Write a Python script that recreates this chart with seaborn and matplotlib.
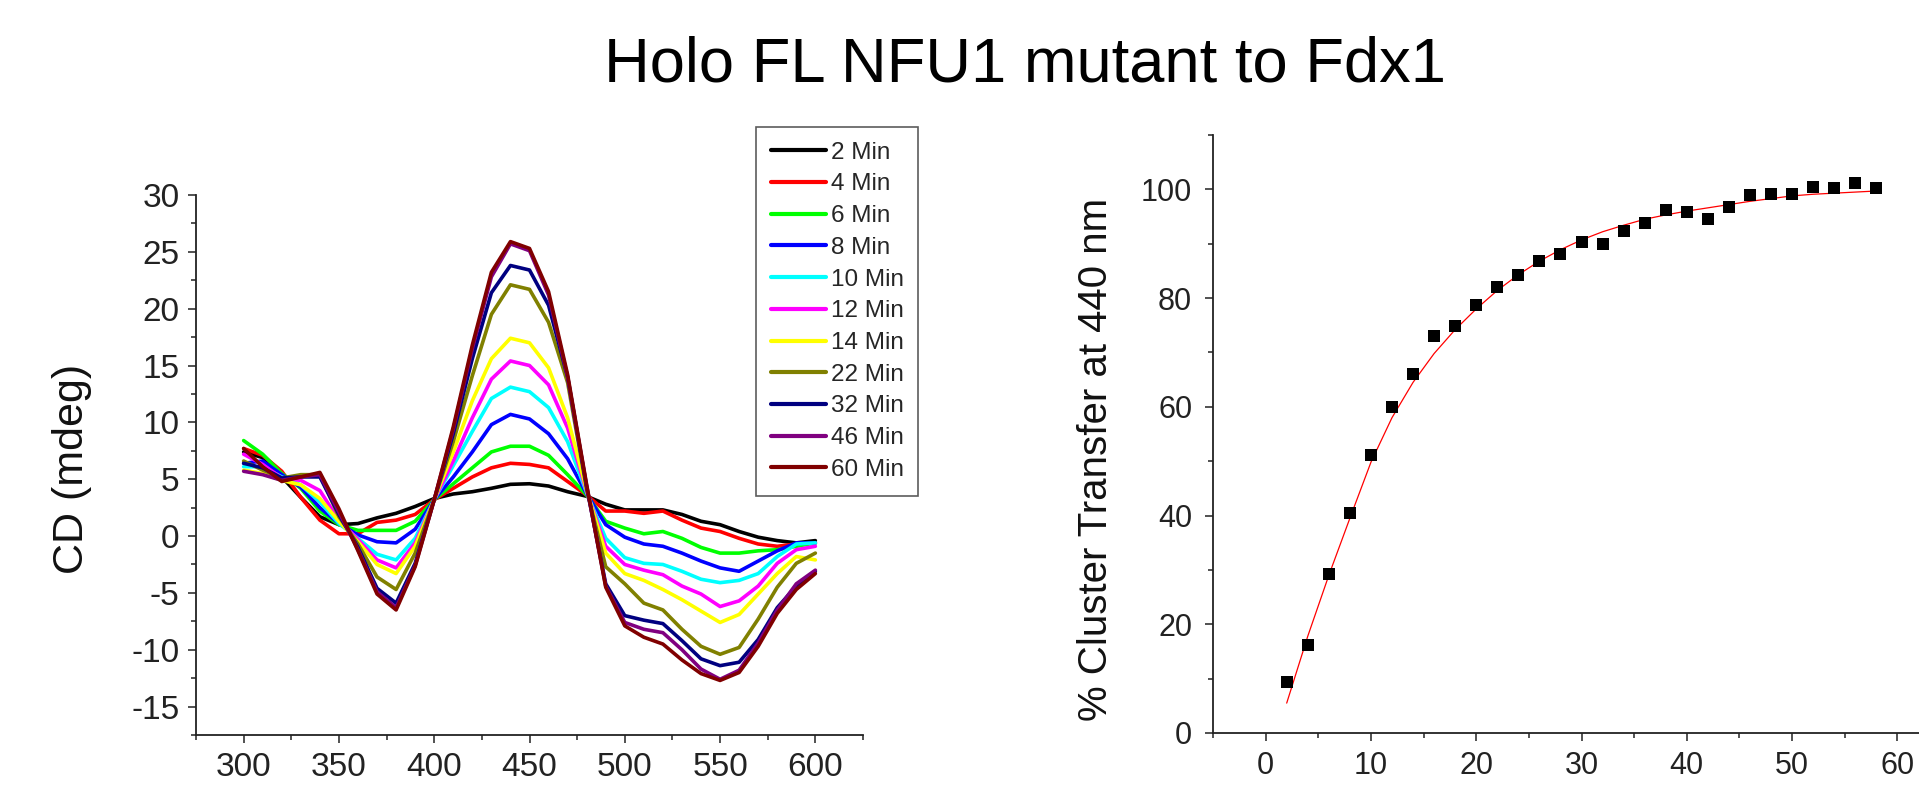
import numpy as np
import pandas as pd
import matplotlib
matplotlib.use("Agg")
import matplotlib.pyplot as plt
from matplotlib.ticker import MultipleLocator
import seaborn as sns

# wavelength grid (nm) for the CD spectra
wavelength = list(range(300, 610, 10))

times = ["2 Min", "4 Min", "6 Min", "8 Min", "10 Min", "12 Min",
         "14 Min", "22 Min", "32 Min", "46 Min", "60 Min"]
colors = ["#000000", "#FF0000", "#00FF00", "#0000FF", "#00FFFF", "#FF00FF",
          "#FFFF00", "#808000", "#000080", "#800080", "#800000"]

cd_2 = [7.4, 6.9, 5.2, 3.4, 1.7, 1.0, 1.1, 1.6, 2.0, 2.6, 3.3, 3.7, 3.9, 4.2, 4.55, 4.6,
        4.4, 3.9, 3.5, 2.8, 2.3, 2.3, 2.3, 1.9, 1.3, 1.0, 0.4, -0.1, -0.4, -0.6, -0.4]
cd_4 = [7.7, 7.1, 5.7, 3.4, 1.4, 0.2, 0.2, 1.2, 1.4, 1.9, 3.2, 4.2, 5.2, 6.0, 6.4, 6.3,
        6.0, 4.8, 3.6, 2.2, 2.2, 2.0, 2.2, 1.4, 0.7, 0.4, -0.2, -0.7, -0.9, -0.7, -0.6]
cd_6 = [8.4, 7.2, 5.5, 4.2, 2.2, 1.0, 0.5, 0.5, 0.5, 1.3, 3.2, 4.6, 6.0, 7.4, 7.9, 7.9,
        7.1, 5.4, 3.6, 1.3, 0.7, 0.2, 0.4, -0.2, -1.0, -1.5, -1.5, -1.3, -1.2, -0.9, -0.6]
cd_8 = [6.4, 6.6, 5.4, 4.3, 2.5, 1.1, 0.1, -0.5, -0.6, 0.6, 3.2, 5.2, 7.4, 9.8, 10.7, 10.3,
        9.0, 6.8, 3.7, 1.0, -0.1, -0.7, -0.9, -1.5, -2.2, -2.8, -3.1, -2.2, -1.3, -0.6, -0.6]
cd_10 = [6.1, 6.1, 5.2, 4.5, 3.0, 1.1, -0.2, -1.6, -2.1, -0.2, 3.2, 6.2, 9.2, 12.1, 13.1, 12.7,
         11.3, 8.3, 3.8, -0.2, -1.9, -2.4, -2.5, -3.1, -3.8, -4.1, -3.9, -3.3, -1.8, -0.7, -0.6]
cd_12 = [7.2, 6.3, 5.1, 4.9, 4.0, 1.4, -0.3, -2.1, -2.8, -0.6, 3.2, 6.6, 10.4, 13.8, 15.4, 15.0,
         13.3, 9.5, 3.9, -0.9, -2.5, -3.0, -3.4, -4.4, -5.1, -6.2, -5.7, -4.4, -2.4, -1.2, -0.9]
cd_14 = [5.8, 5.5, 4.9, 4.5, 3.3, 1.3, -0.5, -2.5, -3.3, -0.9, 3.2, 7.4, 11.9, 15.6, 17.4, 17.0,
         14.8, 10.4, 4.0, -1.5, -3.3, -3.9, -4.7, -5.6, -6.6, -7.6, -6.9, -5.1, -3.3, -1.8, -2.1]
cd_22 = [6.6, 5.8, 5.1, 5.4, 5.4, 1.7, -0.7, -3.6, -4.7, -1.5, 3.2, 8.3, 14.1, 19.5, 22.1, 21.7,
         18.8, 13.5, 4.1, -2.7, -4.2, -5.9, -6.5, -8.2, -9.7, -10.4, -9.8, -7.3, -4.5, -2.4, -1.5]
cd_32 = [6.4, 6.0, 5.1, 5.2, 5.2, 1.9, -1.0, -4.6, -5.9, -2.4, 3.2, 9.0, 15.6, 21.4, 23.8, 23.4,
         20.3, 14.0, 4.3, -4.2, -7.0, -7.4, -7.7, -9.2, -10.8, -11.4, -11.1, -9.1, -6.3, -4.4, -3.1]
cd_46 = [5.7, 5.4, 4.9, 5.2, 5.4, 2.1, -1.2, -4.9, -6.3, -2.6, 3.2, 9.4, 16.5, 22.8, 25.7, 25.1,
         21.2, 14.0, 4.4, -4.4, -7.6, -8.2, -8.5, -10.0, -11.7, -12.6, -11.8, -9.4, -6.5, -4.2, -3.0]
cd_60 = [7.7, 6.1, 4.8, 5.2, 5.6, 2.4, -1.3, -5.1, -6.5, -2.7, 3.2, 9.6, 16.8, 23.2, 25.9, 25.3,
         21.5, 14.2, 4.5, -4.5, -7.9, -8.9, -9.5, -10.9, -12.1, -12.7, -12.0, -9.7, -6.8, -4.7, -3.3]

spectra = [cd_2, cd_4, cd_6, cd_8, cd_10, cd_12, cd_14, cd_22, cd_32, cd_46, cd_60]

# cluster transfer kinetics
time_min = [2, 4, 6, 8, 10, 12, 14, 16, 18, 20, 22, 24, 26, 28, 30, 32, 34, 36, 38, 40,
            42, 44, 46, 48, 50, 52, 54, 56, 58]
transfer = [9.3, 16.2, 29.3, 40.4, 51.1, 60.0, 66.0, 73.1, 74.8, 78.8, 82.0, 84.2, 86.9, 88.1,
            90.4, 89.9, 92.4, 93.9, 96.2, 95.8, 94.6, 96.8, 98.9, 99.2, 99.2, 100.5, 100.2,
            101.1, 100.2]
fit_curve = [5.5, 17.8, 29.0, 39.5, 49.8, 58.0, 64.5, 69.8, 74.2, 78.0, 81.4, 84.3, 86.8, 88.9,
             90.7, 92.2, 93.4, 94.5, 95.3, 96.0, 96.6, 97.2, 97.8, 98.3, 98.8, 99.1, 99.3,
             99.5, 99.7]

sns.set_style("ticks")
plt.rcParams["font.family"] = ["Liberation Sans", "DejaVu Sans"]
plt.rcParams["axes.unicode_minus"] = False

W, H = 1919, 802
fig = plt.figure(figsize=(W / 100, H / 100), dpi=100)

def px_axes(left, right, top, bottom):
    return fig.add_axes([left / W, 1 - bottom / H, (right - left) / W, (bottom - top) / H])

ax1 = px_axes(196, 863, 195, 735)
ax2 = px_axes(1213, 1950, 135, 733)

# --- left panel: CD spectra
rows = []
for lbl, vals in zip(times, spectra):
    for w, v in zip(wavelength, vals):
        rows.append((w, v, lbl))
df = pd.DataFrame(rows, columns=["wavelength", "cd", "time"])

sns.lineplot(data=df, x="wavelength", y="cd", hue="time", hue_order=times,
             palette=colors, linewidth=2.6, estimator=None, sort=True,
             legend=False, ax=ax1)

ax1.set_xlim(275, 625)
ax1.set_ylim(-17.5, 30)
ax1.xaxis.set_major_locator(MultipleLocator(50))
ax1.xaxis.set_minor_locator(MultipleLocator(25))
ax1.yaxis.set_major_locator(MultipleLocator(5))
ax1.yaxis.set_minor_locator(MultipleLocator(2.5))
ax1.set_xlabel("")
ax1.set_ylabel("")
ax1.tick_params(axis="both", which="major", labelsize=24, length=6, width=1.1,
                direction="out", colors="#222222", pad=6)
ax1.tick_params(axis="both", which="minor", length=3.5, width=1.1, direction="out",
                colors="#222222")
ax1.set_yticks([30, 25, 20, 15, 10, 5, 0, -5, -10, -15])

leg = ax1.legend(handles=ax1.lines[:11], labels=times, loc="upper left",
                 bbox_to_anchor=(756 / W, 1 - 127 / H), bbox_transform=fig.transFigure,
                 fontsize=17.5, frameon=True, fancybox=False, edgecolor="#333333",
                 borderpad=0.6, labelspacing=0.4, handlelength=2.3, handletextpad=0.18,
                 borderaxespad=0)
leg.get_frame().set_linewidth(1.2)
for h in leg.legend_handles:
    h.set_linewidth(3)

# --- right panel: kinetics
kin = pd.DataFrame({"time": time_min, "transfer": transfer, "fit": fit_curve})
sns.lineplot(data=kin, x="time", y="fit", color="#FF0000", linewidth=0.9,
             estimator=None, ax=ax2)
sns.scatterplot(data=kin, x="time", y="transfer", marker="s", s=70, color="black",
                edgecolor="black", linewidth=0, ax=ax2, zorder=3)

ax2.set_xlim(-5, 65)
ax2.set_ylim(0, 110)
ax2.xaxis.set_major_locator(MultipleLocator(10))
ax2.xaxis.set_minor_locator(MultipleLocator(5))
ax2.yaxis.set_major_locator(MultipleLocator(20))
ax2.yaxis.set_minor_locator(MultipleLocator(10))
ax2.set_xlabel("")
ax2.set_ylabel("")
ax2.tick_params(axis="both", which="major", labelsize=22, length=6, width=1.1,
                direction="out", colors="#222222", pad=7)
ax2.tick_params(axis="y", which="major", pad=9)
ax2.tick_params(axis="both", which="minor", length=3.5, width=1.1, direction="out",
                colors="#222222")
ax2.set_xticks([0, 10, 20, 30, 40, 50, 60])
ax2.set_yticks([0, 20, 40, 60, 80, 100])

for ax in (ax1, ax2):
    sns.despine(ax=ax)
    for side in ("left", "bottom"):
        ax.spines[side].set_linewidth(1.3)
        ax.spines[side].set_color("#222222")
        ax.spines[side].set_clip_on(False)

# labels and title as figure text
fig.text(72 / W, 1 - 469 / H, "CD (mdeg)", rotation=90, ha="center", va="center",
         fontsize=31, color="#111111")
fig.text(1096 / W, 1 - 459 / H, "% Cluster Transfer at 440 nm", rotation=90,
         ha="center", va="center", fontsize=29, color="#111111")
fig.text(1025 / W, 1 - 82 / H, "Holo FL NFU1 mutant to Fdx1", ha="center",
         va="baseline", fontsize=45.5, color="black")

fig.savefig("out.png", dpi=100)
